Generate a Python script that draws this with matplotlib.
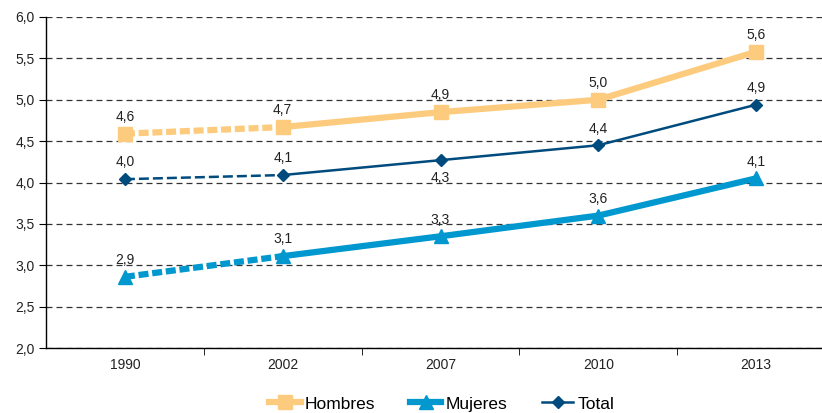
import matplotlib
matplotlib.use("Agg")
import matplotlib.pyplot as plt
from matplotlib.lines import Line2D

plt.rcParams['font.family'] = ['Liberation Sans', 'DejaVu Sans']

years = ["1990", "2002", "2007", "2010", "2013"]
hombres = [4.59, 4.67, 4.85, 5.0, 5.58]
mujeres = [2.86, 3.11, 3.35, 3.6, 4.05]
total = [4.04, 4.09, 4.27, 4.45, 4.94]
lab_h = ["4,6", "4,7", "4,9", "5,0", "5,6"]
lab_m = ["2,9", "3,1", "3,3", "3,6", "4,1"]
lab_t = ["4,0", "4,1", "4,3", "4,4", "4,9"]
yticks = [2.0, 2.5, 3.0, 3.5, 4.0, 4.5, 5.0, 5.5, 6.0]

c_h = "#FDCB7E"
c_m = "#0098CE"
c_t = "#004B7D"

fig = plt.figure(figsize=(8.22, 4.13), dpi=100)
ax = fig.add_axes([46/822, 1-348/413, (835-46)/822, (348-17)/413])
x = list(range(len(years)))

series = [
    (hombres, lab_h, c_h, 's', 4.5, 10, 'Hombres', (0, (1.6, 0.6))),
    (mujeres, lab_m, c_m, '^', 4.5, 10, 'Mujeres', (0, (1.6, 0.6))),
    (total, lab_t, c_t, 'D', 1.8, 6.5, 'Total', (0, (4, 1.6))),
]
for vals, labs, c, m, lw, ms, name, dash in series:
    ax.plot(x[:2], vals[:2], color=c, lw=lw, ls=dash, zorder=3)
    ax.plot(x[1:], vals[1:], color=c, lw=lw, zorder=3)
    ax.plot(x, vals, ls='none', marker=m, color=c, ms=ms, zorder=4)
    for i, (v, l) in enumerate(zip(vals, labs)):
        if name == 'Total' and i == 2:
            ax.annotate(l, (i, v), xytext=(0, -8), textcoords='offset points',
                        ha='center', va='top', fontsize=10, color='#222222')
        else:
            ax.annotate(l, (i, v), xytext=(0, 7), textcoords='offset points',
                        ha='center', va='bottom', fontsize=10, color='#222222')

ax.set_xlim(-0.5, 4.5)
ax.set_ylim(2.0, 6.0)
ax.set_yticks(yticks)
ax.set_yticklabels([f"{t:.1f}".replace('.', ',') for t in yticks], fontsize=10, color='#222222')
ax.set_xticks(x)
ax.set_xticklabels(years, fontsize=10, color='#222222')
ax.set_xticks([i + 0.5 for i in range(4)], minor=True)
ax.tick_params(axis='x', which='major', length=0, pad=7)
ax.tick_params(axis='x', which='minor', length=5, direction='out', color='black')
ax.tick_params(axis='y', length=5, direction='out', color='black', pad=3)
ax.yaxis.grid(True, ls=(0, (4.8, 3.2)), color='#333333', lw=0.9)
ax.set_axisbelow(True)
for s in ['top', 'right']:
    ax.spines[s].set_visible(False)
for s in ['left', 'bottom']:
    ax.spines[s].set_color('black')
    ax.spines[s].set_linewidth(1.0)

handles = [
    Line2D([], [], color=c_h, lw=4.5, marker='s', ms=10),
    Line2D([], [], color=c_m, lw=4.5, marker='^', ms=10),
    Line2D([], [], color=c_t, lw=1.8, marker='D', ms=6.5),
]
fig.legend(handles, ['Hombres', 'Mujeres', 'Total'], loc='center', bbox_to_anchor=(442/822, 1-404/413),
           ncol=3, frameon=False, fontsize=12.5, handlelength=1.8, columnspacing=2.0, handletextpad=0.25)

fig.savefig("out.png", dpi=100)
